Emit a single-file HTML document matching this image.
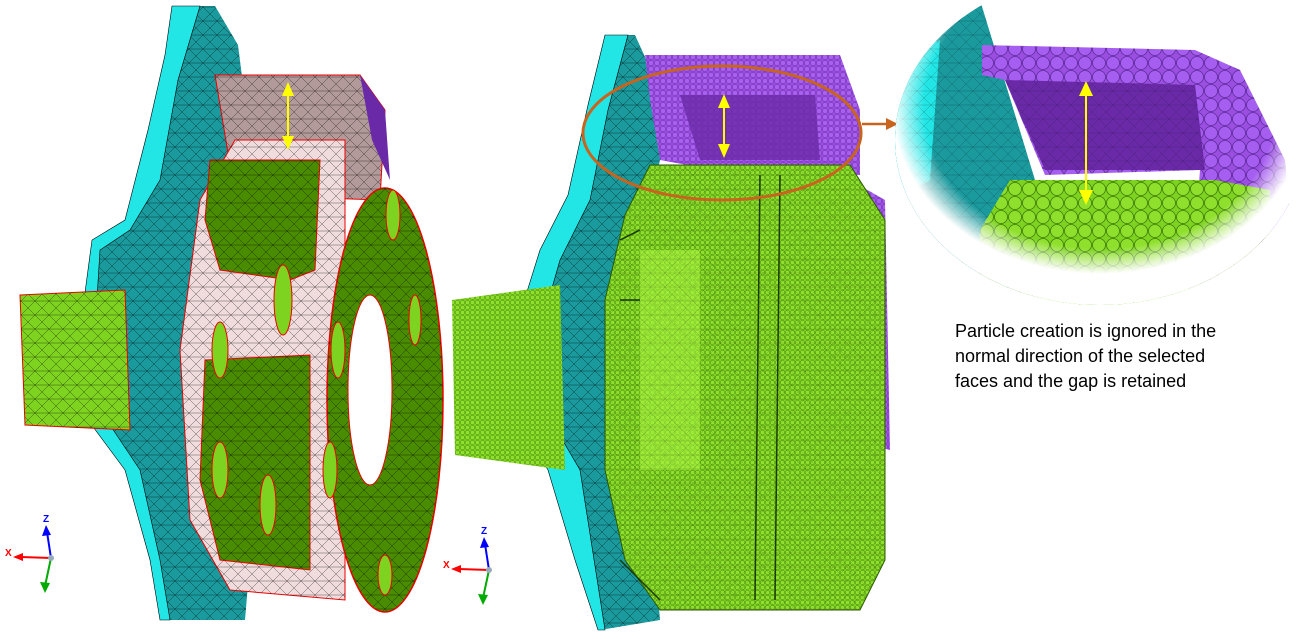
<!DOCTYPE html>
<html><head><meta charset="utf-8"><style>
html,body{margin:0;padding:0;background:#fff;}
svg{display:block}
</style></head><body>
<svg width="1304" height="639" viewBox="0 0 1304 639" xmlns="http://www.w3.org/2000/svg" font-family="Liberation Sans, sans-serif">
<defs>
<pattern id="mesh" width="14" height="14" patternUnits="userSpaceOnUse">
<path d="M0 0L14 14M0 14L14 0M0 7H14" stroke="#000" stroke-width="0.5" opacity="0.6" fill="none"/>
</pattern>
<pattern id="dots" width="5" height="5" patternUnits="userSpaceOnUse">
<rect width="5" height="5" fill="#7ed321"/><circle cx="2.5" cy="2.5" r="2.2" fill="#8fe02c" stroke="#4c8a10" stroke-width="0.5"/>
</pattern>
<pattern id="pdots" width="6" height="6" patternUnits="userSpaceOnUse">
<rect width="6" height="6" fill="#9a4fe0"/><circle cx="3" cy="3" r="2.6" fill="#a860ee" stroke="#6a2aa8" stroke-width="0.5"/>
</pattern>
<pattern id="bdots" width="14" height="14" patternUnits="userSpaceOnUse">
<rect width="14" height="14" fill="#7ed321"/><circle cx="7" cy="7" r="6.5" fill="#8fe02c" stroke="#3d7a0a" stroke-width="0.8"/>
</pattern>
<pattern id="bpdots" width="14" height="14" patternUnits="userSpaceOnUse">
<rect width="14" height="14" fill="#9a4fe0"/><circle cx="7" cy="7" r="6.5" fill="#a65ef0" stroke="#5e2a9a" stroke-width="0.8"/>
</pattern>
<radialGradient id="fade" cx="0.5" cy="0.4" r="0.55">
<stop offset="0.78" stop-color="#fff" stop-opacity="0"/><stop offset="0.92" stop-color="#fff" stop-opacity="1"/>
</radialGradient>
<clipPath id="zc"><ellipse cx="1100" cy="140" rx="205" ry="165"/></clipPath>
</defs>

<!-- LEFT MODEL -->
<path id="lf" d="M172 6L215 6L238 45L250 140L250 220L300 300L330 400L330 520L250 560L245 620L168 620L160 560L130 470L95 420L85 330L100 240L130 220L150 130L165 60Z" fill="#1b9a9e"/>
<path d="M172 6L215 6L238 45L250 140L250 220L300 300L330 400L330 520L250 560L245 620L168 620L160 560L130 470L95 420L85 330L100 240L130 220L150 130L165 60Z" fill="url(#mesh)"/>
<path d="M172 6L200 6L178 80L160 180L130 230L100 250L95 330L100 410L140 470L160 560L170 620L160 620L150 560L125 470L88 420L80 330L92 240L125 220L148 130L165 55Z" fill="#22e6e6" stroke="#000" stroke-width="0.6"/>
<path d="M20 295L125 290L130 430L25 425Z" fill="#7ed321" stroke="#e00" stroke-width="1"/>
<path d="M20 295L125 290L130 430L25 425Z" fill="url(#mesh)"/>
<path d="M215 75L360 75L385 110L380 200L235 195Z" fill="#b39a9a" stroke="#e00"/>
<path d="M215 75L360 75L385 110L380 200L235 195Z" fill="url(#mesh)"/>
<path d="M360 75L385 110L390 180L372 140Z" fill="#6a2aa8"/>
<path d="M235 140L345 140L345 600L230 590L190 520L180 350L200 200Z" fill="#f0dcdc" stroke="#e00"/>
<path d="M235 140L345 140L345 600L230 590L190 520L180 350L200 200Z" fill="url(#mesh)"/>
<path d="M210 160L320 160L315 270L290 280L220 270L205 220Z" fill="#4a8c00" stroke="#e00"/>
<path d="M210 160L320 160L315 270L290 280L220 270L205 220Z" fill="url(#mesh)"/>
<path d="M205 360L310 355L310 570L220 560L200 480Z" fill="#4a8c00" stroke="#e00"/>
<path d="M205 360L310 355L310 570L220 560L200 480Z" fill="url(#mesh)"/>
<ellipse cx="385" cy="400" rx="58" ry="212" fill="#4a8c00" stroke="#e00" stroke-width="1.5"/>
<ellipse cx="385" cy="400" rx="58" ry="212" fill="url(#mesh)"/>
<ellipse cx="370" cy="390" rx="22" ry="95" fill="#fff" stroke="#e00"/>
<g fill="#7ed321" stroke="#e00">
<ellipse cx="393" cy="215" rx="7" ry="25"/><ellipse cx="415" cy="320" rx="6" ry="25"/><ellipse cx="385" cy="575" rx="7" ry="20"/>
<ellipse cx="283" cy="300" rx="9" ry="35"/><ellipse cx="268" cy="505" rx="8" ry="30"/><ellipse cx="338" cy="350" rx="7" ry="28"/><ellipse cx="330" cy="470" rx="7" ry="28"/>
<ellipse cx="220" cy="350" rx="8" ry="28"/><ellipse cx="220" cy="470" rx="8" ry="28"/>
</g>
<line x1="288" y1="88" x2="288" y2="143" stroke="#ff0" stroke-width="2"/>
<path d="M282 96L288 82L294 96Z M282 136L288 150L294 136Z" fill="#ff0"/>

<!-- MIDDLE MODEL -->
<path d="M605 35L635 35L660 90L660 160L640 250L630 380L650 500L660 620L600 630L580 560L560 470L525 420L520 330L545 250L570 200L590 110Z" fill="#1b9a9e"/>
<path d="M605 35L635 35L660 90L660 160L640 250L630 380L650 500L660 620L600 630L580 560L560 470L525 420L520 330L545 250L570 200L590 110Z" fill="url(#mesh)"/>
<path d="M605 35L628 35L608 110L590 200L560 260L540 330L545 410L580 470L605 630L598 630L575 560L548 470L518 420L515 330L540 250L568 195L588 105Z" fill="#22e6e6" stroke="#000" stroke-width="0.6"/>
<path d="M452 300L560 285L565 470L455 455Z" fill="url(#dots)"/>
<path d="M645 55L840 55L860 110L860 175L715 170L660 160L650 100Z" fill="url(#pdots)"/>
<path d="M680 95L815 95L820 160L700 160Z" fill="#6a2aa8" opacity="0.8"/>
<path d="M850 180L885 200L890 450L850 440Z" fill="url(#pdots)"/>
<path d="M650 165L850 165L885 220L885 560L860 610L660 610L625 560L605 470L605 300L625 215Z" fill="url(#dots)"/>
<path d="M640 250L700 250L700 470L640 470Z" fill="#a6f040" opacity="0.6"/>
<path d="M650 165L850 165L885 220L885 560L860 610L660 610L625 560L605 470L605 300L625 215Z" fill="url(#mesh)" opacity="0.35"/>
<path d="M650 165L850 165L885 220L885 560L860 610L660 610L625 560L605 470L605 300L625 215Z" fill="none" stroke="#2a5a00" stroke-width="1"/>
<path d="M620 240L640 230M620 300L640 300M620 560L660 600M760 175L755 600M780 175L775 600" stroke="#1a3a00" stroke-width="1.5" fill="none"/>
<line x1="724" y1="100" x2="724" y2="152" stroke="#ff0" stroke-width="2"/>
<path d="M718 108L724 94L730 108Z M718 144L724 158L730 144Z" fill="#ff0"/>
<ellipse cx="722" cy="133" rx="139" ry="67" fill="none" stroke="#c8641e" stroke-width="3"/>
<line x1="862" y1="124" x2="888" y2="124" stroke="#c8641e" stroke-width="2.5"/>
<path d="M886 118L898 124L886 130Z" fill="#c8641e"/>

<!-- ZOOM -->
<g clip-path="url(#zc)">
<path d="M895 0L980 0L1035 180L1020 310L895 310Z" fill="#1b9a9e"/>
<path d="M895 60L940 40L930 180L895 200Z" fill="#22e6e6"/>
<path d="M895 0L980 0L1035 180L1020 310L895 310Z" fill="url(#mesh)" opacity="0.5"/>
<path d="M982 45L1195 50L1240 70L1285 160L1295 260L1280 300L1190 300L1200 170L1045 175L1005 80L982 75Z" fill="url(#bpdots)"/>
<path d="M1005 80L1195 85L1205 170L1045 170Z" fill="#6a2aa8"/>
<path d="M1005 80L1195 85L1205 170L1045 170Z" fill="url(#mesh)" opacity="0.4"/>
<path d="M1010 180L1215 180L1270 190L1275 310L975 310L980 230Z" fill="url(#bdots)"/>
<ellipse cx="1100" cy="140" rx="205" ry="165" fill="url(#fade)"/>
</g>
<line x1="1086" y1="88" x2="1086" y2="197" stroke="#ff0" stroke-width="2"/>
<path d="M1079 96L1086 81L1093 96Z M1079 190L1086 205L1093 190Z" fill="#ff0"/>

<text font-size="18" fill="#000"><tspan x="955" y="337">Particle creation is ignored in the</tspan><tspan x="955" y="362">normal direction of the selected</tspan><tspan x="955" y="387">faces and the gap is retained</tspan></text>

<!-- triads -->
<g transform="translate(51,558)">
<line x1="0" y1="0" x2="-4" y2="-26" stroke="#00f" stroke-width="2"/><path d="M-9 -22L-5 -33L0 -23Z" fill="#00f"/>
<text x="-8" y="-36" font-size="10" fill="#00f" font-weight="bold">Z</text>
<line x1="0" y1="0" x2="-30" y2="-1" stroke="#f00" stroke-width="2"/><path d="M-28 -5L-38 -1L-28 3Z" fill="#f00"/>
<text x="-46" y="-2" font-size="10" fill="#f00" font-weight="bold">X</text>
<line x1="0" y1="0" x2="-6" y2="28" stroke="#0a0" stroke-width="2"/><path d="M-11 24L-6 35L-1 25Z" fill="#0a0"/>
<circle r="3" fill="#9ab"/>
</g>
<g transform="translate(489,570)">
<line x1="0" y1="0" x2="-4" y2="-26" stroke="#00f" stroke-width="2"/><path d="M-9 -22L-5 -33L0 -23Z" fill="#00f"/>
<text x="-8" y="-36" font-size="10" fill="#00f" font-weight="bold">Z</text>
<line x1="0" y1="0" x2="-30" y2="-1" stroke="#f00" stroke-width="2"/><path d="M-28 -5L-38 -1L-28 3Z" fill="#f00"/>
<text x="-46" y="-2" font-size="10" fill="#f00" font-weight="bold">X</text>
<line x1="0" y1="0" x2="-6" y2="28" stroke="#0a0" stroke-width="2"/><path d="M-11 24L-6 35L-1 25Z" fill="#0a0"/>
<circle r="3" fill="#9ab"/>
</g>
</svg>
</body></html>
